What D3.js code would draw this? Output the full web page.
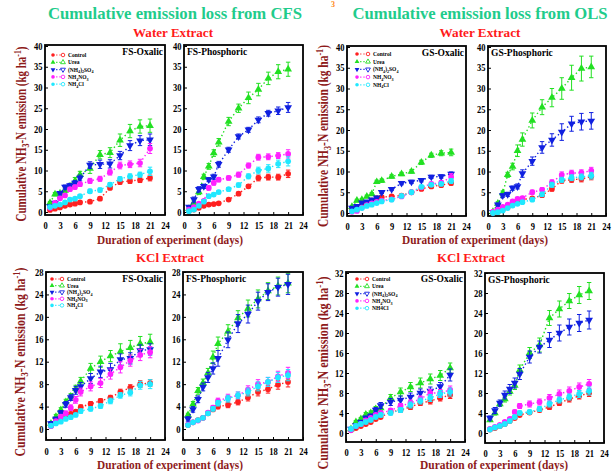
<!DOCTYPE html>
<html>
<head>
<meta charset="utf-8">
<script src="https://cdn.jsdelivr.net/npm/d3@7"></script>
<style>
  body { margin: 0; background: #fff; }
  svg { display: block; }
</style>
</head>
<body>
<div id="chart"></div>
<script>
// sampling days and labels
const days = [1, 2, 3, 4, 5, 6, 7, 9, 11, 13, 15, 17, 19, 21];
const seriesNames = ["Control", "Urea", "(NH4)2SO4", "NH4NO3", "NH4Cl"];
const xTicks = [0, 3, 6, 9, 12, 15, 18, 21, 24];
const yTicksWater = [0, 5, 10, 15, 20, 25, 30, 35, 40];
const yTicksKclFS = [0, 4, 8, 12, 16, 20, 24, 28];
const yTicksKclGS = [0, 4, 8, 12, 16, 20, 24, 28, 32];

// -- Water extract, CFS --
// order: Control, Urea, (NH4)2SO4, NH4NO3, NH4Cl
const fsOxWater = [
  [0.5, 0.8, 1.1, 1.5, 1.8, 2.0, 2.3, 2.5, 3.2, 5.8, 7.2, 7.5, 7.7, 8.2],
  [2.2, 4.3, 4.5, 5.2, 6.2, 7.5, 9.0, 10.5, 13.8, 14.3, 17.3, 19.5, 20.6, 20.8],
  [1.3, 2.2, 4.5, 6.0, 6.4, 7.0, 8.2, 11.3, 11.5, 11.6, 13.6, 16.0, 17.2, 17.4],
  [1.0, 2.2, 3.3, 4.0, 5.5, 6.0, 6.7, 7.5, 8.0, 9.6, 11.2, 11.5, 11.8, 15.3],
  [1.2, 1.5, 1.8, 2.3, 3.0, 3.2, 3.8, 5.0, 5.3, 6.6, 8.0, 8.6, 9.0, 9.8]
];
const fsOxWaterErr = [
  [0.2, 0.2, 0.2, 0.3, 0.3, 0.3, 0.3, 0.3, 0.4, 0.4, 0.5, 0.6, 0.6, 0.7],
  [0.3, 0.4, 0.4, 0.5, 0.6, 0.8, 0.8, 1.2, 1.0, 1.2, 1.5, 1.6, 1.6, 1.6],
  [0.2, 0.3, 0.4, 0.5, 0.5, 0.6, 0.7, 0.8, 1.0, 1.0, 1.0, 1.2, 1.2, 1.4],
  [0.2, 0.2, 0.3, 0.3, 0.4, 0.5, 0.5, 0.6, 0.6, 0.7, 0.8, 0.8, 0.9, 1.2],
  [0.2, 0.2, 0.2, 0.3, 0.3, 0.3, 0.4, 0.5, 0.5, 0.5, 0.5, 0.6, 0.6, 1.0]
];
const fsPhWater = [
  [0.3, 0.6, 1.0, 1.5, 1.8, 1.9, 2.1, 3.0, 4.4, 6.2, 8.2, 8.4, 8.4, 9.2],
  [0.8, 2.2, 4.8, 8.5, 11.0, 14.2, 16.8, 21.8, 25.0, 27.5, 29.5, 32.2, 33.8, 34.4],
  [1.2, 3.0, 5.5, 6.2, 7.8, 8.5, 11.5, 15.0, 18.2, 19.8, 22.2, 23.8, 24.4, 25.2],
  [0.6, 1.2, 2.0, 2.7, 5.8, 7.0, 7.8, 8.2, 9.0, 11.2, 13.2, 13.3, 13.6, 14.0],
  [0.2, 0.6, 1.5, 2.5, 3.8, 4.2, 4.8, 5.5, 6.5, 8.6, 10.0, 10.5, 11.6, 12.2]
];
const fsPhWaterErr = [
  [0.2, 0.2, 0.2, 0.2, 0.3, 0.3, 0.3, 0.3, 0.4, 0.4, 0.7, 0.7, 0.7, 0.9],
  [0.3, 0.5, 0.6, 0.6, 0.7, 0.8, 0.9, 1.0, 1.0, 1.4, 1.5, 1.5, 1.7, 1.7],
  [0.3, 0.6, 0.6, 0.5, 0.5, 0.6, 0.7, 0.6, 0.6, 0.6, 0.7, 0.7, 0.9, 1.2],
  [0.2, 0.3, 0.3, 0.3, 0.5, 0.5, 0.5, 0.5, 0.6, 0.6, 0.7, 0.7, 0.7, 1.0],
  [0.2, 0.2, 0.3, 0.3, 0.4, 0.4, 0.4, 0.4, 0.5, 0.6, 0.8, 0.9, 0.9, 1.1]
];

// -- Water extract, OLS --
const gsOxWater = [
  [1.0, 1.3, 1.8, 2.2, 3.0, 3.6, 3.8, 4.0, 4.2, 5.0, 5.8, 6.4, 6.7, 7.2],
  [1.5, 3.0, 3.2, 4.0, 4.6, 7.5, 7.8, 8.8, 9.4, 10.0, 12.2, 13.9, 14.4, 14.6],
  [1.2, 1.6, 2.5, 2.7, 3.2, 3.7, 5.0, 5.7, 7.2, 7.5, 7.9, 8.7, 8.8, 9.4],
  [0.3, 0.5, 1.3, 1.9, 2.3, 2.7, 3.0, 3.3, 4.0, 5.0, 6.2, 7.0, 7.3, 8.7],
  [0.4, 0.8, 1.2, 1.7, 2.0, 2.4, 2.8, 3.2, 4.1, 5.0, 6.3, 6.8, 7.0, 7.7]
];
const gsOxWaterErr = [
  [0.2, 0.2, 0.2, 0.2, 0.3, 0.3, 0.3, 0.3, 0.3, 0.3, 0.4, 0.4, 0.4, 0.5],
  [0.2, 0.3, 0.3, 0.3, 0.3, 0.4, 0.4, 0.4, 0.4, 0.4, 0.5, 0.5, 0.6, 0.8],
  [0.2, 0.2, 0.2, 0.3, 0.3, 0.3, 0.3, 0.3, 0.4, 0.4, 0.4, 0.4, 0.4, 0.5],
  [0.2, 0.2, 0.2, 0.2, 0.2, 0.3, 0.3, 0.3, 0.3, 0.3, 0.4, 0.4, 0.5, 0.8],
  [0.2, 0.2, 0.2, 0.2, 0.2, 0.3, 0.3, 0.3, 0.3, 0.3, 0.4, 0.4, 0.4, 0.6]
];
const gsPhWater = [
  [0.0, 0.3, 0.8, 1.4, 2.4, 3.0, 3.3, 3.5, 4.3, 5.8, 7.8, 8.0, 8.2, 8.8],
  [0.3, 2.3, 4.8, 9.2, 11.2, 15.0, 17.7, 22.3, 25.5, 27.8, 30.0, 32.6, 34.8, 35.2],
  [0.2, 2.0, 4.2, 4.5, 6.0, 6.4, 9.5, 12.5, 15.8, 17.6, 19.5, 21.5, 22.0, 22.2],
  [0.3, 0.8, 1.5, 2.0, 2.8, 3.4, 3.6, 5.0, 5.6, 7.4, 9.2, 9.6, 9.7, 10.2],
  [0.0, 0.2, 0.6, 1.2, 1.8, 2.2, 2.6, 3.2, 4.5, 6.8, 8.0, 8.5, 8.7, 9.0]
];
const gsPhWaterErr = [
  [0.2, 0.2, 0.2, 0.3, 0.3, 0.3, 0.3, 0.3, 0.4, 0.5, 0.6, 0.6, 0.7, 0.8],
  [0.3, 0.4, 0.5, 0.6, 0.8, 1.4, 1.6, 1.8, 1.8, 2.2, 2.6, 3.0, 3.0, 2.6],
  [0.3, 0.4, 0.4, 0.5, 0.5, 0.6, 0.9, 1.0, 1.4, 1.5, 2.0, 1.8, 2.0, 2.0],
  [0.2, 0.2, 0.3, 0.3, 0.3, 0.4, 0.4, 0.5, 0.5, 0.6, 0.7, 0.7, 0.7, 0.8],
  [0.2, 0.2, 0.2, 0.3, 0.3, 0.3, 0.3, 0.4, 0.5, 0.6, 0.6, 0.7, 0.7, 0.8]
];

// -- KCl extract, CFS --
const fsOxKcl = [
  [0.6, 1.2, 2.0, 2.5, 2.7, 3.1, 3.9, 4.5, 5.0, 5.6, 6.6, 7.4, 8.0, 8.2],
  [1.0, 2.2, 3.4, 4.8, 5.8, 7.2, 8.5, 10.8, 12.0, 13.0, 13.8, 14.5, 15.2, 15.5],
  [1.0, 1.8, 2.9, 4.4, 5.6, 6.9, 7.6, 9.0, 10.2, 10.6, 12.4, 12.6, 14.0, 14.2],
  [0.5, 1.4, 2.2, 2.8, 3.8, 5.2, 6.6, 7.6, 8.2, 9.8, 11.0, 12.2, 13.2, 13.7],
  [0.6, 1.0, 1.3, 1.8, 2.1, 2.5, 3.2, 3.6, 4.1, 5.0, 6.0, 6.5, 7.8, 8.0]
];
const fsOxKclErr = [
  [0.2, 0.2, 0.3, 0.3, 0.3, 0.3, 0.4, 0.4, 0.4, 0.4, 0.5, 0.5, 0.6, 0.6],
  [0.3, 0.4, 0.4, 0.5, 0.5, 0.6, 0.7, 0.9, 1.0, 1.0, 1.4, 1.3, 1.3, 1.4],
  [0.3, 0.3, 0.4, 0.5, 0.5, 0.7, 0.7, 0.9, 1.0, 1.1, 1.0, 1.0, 1.0, 1.0],
  [0.2, 0.3, 0.3, 0.4, 0.5, 0.6, 0.7, 0.8, 0.8, 0.9, 1.0, 1.0, 1.0, 1.0],
  [0.2, 0.2, 0.2, 0.2, 0.3, 0.3, 0.4, 0.4, 0.4, 0.5, 0.5, 0.6, 0.7, 0.8]
];
const fsPhKcl = [
  [0.7, 1.2, 1.6, 2.0, 2.8, 3.5, 4.0, 4.3, 4.8, 5.6, 6.6, 7.1, 7.9, 8.4],
  [2.5, 4.4, 6.8, 8.2, 10.0, 12.8, 15.2, 17.4, 19.8, 21.5, 23.2, 24.6, 25.5, 26.0],
  [1.8, 3.5, 5.3, 7.5, 9.2, 10.8, 12.6, 15.9, 18.8, 20.5, 22.8, 24.4, 25.3, 25.8],
  [0.8, 1.2, 1.5, 2.0, 2.9, 3.8, 5.0, 5.6, 6.0, 7.0, 8.0, 8.4, 9.4, 10.0],
  [0.7, 1.2, 1.6, 2.0, 2.8, 3.6, 4.6, 5.4, 6.0, 6.6, 7.6, 8.4, 9.2, 9.6]
];
const fsPhKclErr = [
  [0.2, 0.2, 0.2, 0.2, 0.3, 0.3, 0.4, 0.5, 0.5, 0.6, 0.7, 0.7, 0.8, 0.9],
  [0.3, 0.5, 0.6, 0.7, 0.8, 1.1, 1.2, 1.2, 1.3, 1.5, 1.6, 1.5, 1.6, 1.7],
  [0.4, 0.5, 0.6, 0.7, 0.9, 1.0, 1.4, 1.4, 1.6, 1.6, 1.6, 1.5, 1.6, 1.8],
  [0.2, 0.2, 0.2, 0.2, 0.3, 0.4, 0.5, 0.6, 0.6, 0.7, 0.8, 0.8, 0.9, 1.0],
  [0.2, 0.2, 0.2, 0.2, 0.3, 0.4, 0.5, 0.6, 0.6, 0.7, 0.8, 0.8, 0.9, 1.0]
];

// -- KCl extract, OLS --
const gsOxKcl = [
  [0.6, 1.0, 1.4, 1.8, 2.2, 2.8, 3.2, 4.2, 4.6, 5.2, 6.0, 6.4, 7.0, 7.6],
  [0.8, 2.2, 2.8, 3.7, 4.0, 4.8, 5.0, 7.0, 8.2, 9.2, 10.0, 10.8, 11.5, 13.0],
  [0.8, 1.5, 2.2, 3.0, 3.4, 4.6, 5.5, 6.2, 6.6, 7.2, 8.0, 8.4, 9.3, 11.6],
  [0.6, 1.4, 1.8, 2.5, 3.0, 3.6, 4.0, 4.5, 5.4, 6.0, 6.8, 8.0, 8.0, 8.6],
  [0.8, 1.4, 1.8, 2.2, 2.6, 3.2, 3.6, 4.0, 4.6, 5.6, 6.4, 7.0, 7.8, 8.2]
];
const gsOxKclErr = [
  [0.2, 0.2, 0.2, 0.3, 0.3, 0.3, 0.3, 0.4, 0.4, 0.5, 0.5, 0.6, 0.6, 0.7],
  [0.3, 0.3, 0.3, 0.4, 0.4, 0.5, 0.5, 0.7, 0.8, 0.9, 1.0, 1.0, 1.0, 1.0],
  [0.3, 0.3, 0.3, 0.4, 0.4, 0.5, 0.6, 0.7, 0.8, 0.8, 0.8, 0.8, 0.8, 1.2],
  [0.2, 0.2, 0.3, 0.3, 0.3, 0.3, 0.4, 0.4, 0.5, 0.6, 0.6, 0.7, 0.7, 0.8],
  [0.2, 0.2, 0.3, 0.3, 0.3, 0.3, 0.4, 0.4, 0.5, 0.6, 0.6, 0.7, 0.7, 0.8]
];
const gsPhKcl = [
  [0.7, 1.0, 1.4, 1.8, 2.4, 3.0, 3.6, 4.1, 4.6, 5.2, 6.0, 6.8, 7.4, 8.0],
  [2.6, 4.0, 5.8, 6.8, 8.3, 9.5, 12.6, 16.0, 17.6, 23.0, 24.8, 26.4, 27.6, 28.4],
  [3.0, 4.5, 6.0, 7.6, 8.8, 10.0, 11.8, 15.2, 17.2, 18.6, 20.0, 21.2, 22.0, 22.6],
  [0.8, 1.2, 1.6, 2.2, 2.8, 4.2, 5.4, 5.8, 6.2, 7.0, 7.8, 8.4, 9.2, 9.8],
  [0.7, 1.1, 1.4, 1.8, 2.4, 3.2, 4.0, 4.2, 4.8, 5.8, 6.6, 7.2, 7.8, 8.4]
];
const gsPhKclErr = [
  [0.2, 0.2, 0.2, 0.2, 0.3, 0.3, 0.3, 0.4, 0.4, 0.5, 0.5, 0.6, 0.6, 0.7],
  [0.3, 0.4, 0.5, 0.6, 0.7, 0.8, 1.0, 1.1, 1.4, 1.5, 1.6, 1.5, 1.7, 1.7],
  [0.4, 0.6, 0.6, 0.8, 0.9, 1.0, 1.1, 1.2, 1.2, 1.5, 1.6, 1.6, 1.7, 1.8],
  [0.2, 0.2, 0.3, 0.3, 0.3, 0.4, 0.5, 0.6, 0.6, 0.7, 0.8, 0.8, 0.8, 0.9],
  [0.2, 0.2, 0.2, 0.3, 0.3, 0.3, 0.4, 0.4, 0.5, 0.6, 0.6, 0.6, 0.7, 0.8]
];

const seriesTheme = [
  { color: "#ff2020", symbol: d3.symbolCircle, rotate: 0 },
  { color: "#22e022", symbol: d3.symbolTriangle, rotate: 0 },
  { color: "#1020e0", symbol: d3.symbolTriangle, rotate: 180 },
  { color: "#ff20ff", symbol: d3.symbolCircle, rotate: 0 },
  { color: "#20e8ff", symbol: d3.symbolCircle, rotate: 0 }
];

const textTheme = {
  font: "'Liberation Serif', 'Times New Roman', serif",
  axisLabel: "#8e1b1b",
  extract: "#ff1a1a",
  heading: "#1fcc8c"
};

const topLegend = { dx1: 8, dx2: 18, dxText: 23, y0: 10, dy: 7.3 };
const panels = [
  { title: "FS-Oxalic", titleRight: true, values: fsOxWater, errors: fsOxWaterErr, yTicks: yTicksWater,
    box: { left: 45, right: 165, top: 45, bottom: 215 }, yPx: [212, 46], xPad: 7, legend: topLegend },
  { title: "FS-Phosphoric", titleRight: false, values: fsPhWater, errors: fsPhWaterErr, yTicks: yTicksWater,
    box: { left: 184, right: 303, top: 45, bottom: 215 }, yPx: [212, 46], xPad: 7 },
  { title: "GS-Oxalic", titleRight: true, values: gsOxWater, errors: gsOxWaterErr, yTicks: yTicksWater,
    box: { left: 347, right: 466, top: 46, bottom: 216 }, yPx: [213, 47], xPad: 7,
    legend: { dx1: 10, dx2: 21, dxText: 26, y0: 8, dy: 7.7 } },
  { title: "GS-Phosphoric", titleRight: false, values: gsPhWater, errors: gsPhWaterErr, yTicks: yTicksWater,
    box: { left: 488, right: 606, top: 46, bottom: 216 }, yPx: [213, 47], xPad: 7 },
  { title: "FS-Oxalic", titleRight: true, values: fsOxKcl, errors: fsOxKclErr, yTicks: yTicksKclFS,
    box: { left: 46, right: 165, top: 272, bottom: 440 }, yPx: [429, 272], xPad: 8,
    legend: { dx1: 6, dx2: 16, dxText: 21, y0: 7, dy: 6.6 } },
  { title: "FS-Phosphoric", titleRight: false, values: fsPhKcl, errors: fsPhKclErr, yTicks: yTicksKclFS,
    box: { left: 183, right: 303, top: 272, bottom: 440 }, yPx: [429, 272], xPad: 8 },
  { title: "GS-Oxalic", titleRight: true, values: gsOxKcl, errors: gsOxKclErr, yTicks: yTicksKclGS,
    box: { left: 346, right: 465, top: 272, bottom: 442 }, yPx: [433, 273], xPad: 7,
    legend: { dx1: 11, dx2: 21, dxText: 26, y0: 7, dy: 7.3 }, plainChloride: true },
  { title: "GS-Phosphoric", titleRight: false, values: gsPhKcl, errors: gsPhKclErr, yTicks: yTicksKclGS,
    box: { left: 485, right: 604, top: 273, bottom: 443 }, yPx: [433, 273], xPad: 7 }
];

const svg = d3.select("#chart").append("svg")
  .attr("width", 613)
  .attr("height", 471)
  .style("font-family", textTheme.font);

// chemical formula -> text with subscripts
const addFormula = (sel, label, size) => {
  const parts = label.split(/(\d)/).filter((p) => p !== "");
  let sub = false;
  parts.forEach((p) => {
    const isDigit = /\d/.test(p);
    const t = sel.append("tspan").text(p);
    if (isDigit && !sub) { t.attr("dy", size * 0.3).style("font-size", size * 0.75 + "px"); sub = true; }
    else if (!isDigit && sub) { t.attr("dy", -size * 0.3); sub = false; }
  });
  if (sub) sel.append("tspan").attr("dy", -size * 0.3).text("");
};

const drawPanel = (p) => {
  const g = svg.append("g");
  const x = d3.scaleLinear().domain([0, 24]).range([p.box.left, p.box.right]);
  const y = d3.scaleLinear().domain([0, d3.max(p.yTicks)]).range(p.yPx);

  // axes with small inner ticks
  const yAxis = g.append("g")
    .attr("transform", `translate(${p.box.left},0)`)
    .call(d3.axisLeft(y).tickValues(p.yTicks).tickSize(-3).tickPadding(3));
  const xAxis = g.append("g")
    .attr("transform", `translate(0,${p.box.bottom})`)
    .call(d3.axisBottom(x).tickValues(xTicks).tickSize(-3).tickPadding(p.xPad));
  [yAxis, xAxis].forEach((a) => {
    a.select(".domain").remove();
    a.selectAll(".tick line").attr("stroke", "#000").attr("stroke-width", 1);
    a.selectAll(".tick text")
      .attr("fill", "#000")
      .style("font-family", textTheme.font)
      .style("font-weight", "bold")
      .style("font-size", "10px")
      .attr("transform", "scale(0.85,1)");
  });

  // frame
  g.append("rect")
    .attr("x", p.box.left).attr("y", p.box.top)
    .attr("width", p.box.right - p.box.left)
    .attr("height", p.box.bottom - p.box.top)
    .attr("fill", "none").attr("stroke", "#000").attr("stroke-width", 1.8);

  const line = d3.line().x((d) => x(d[0])).y((d) => y(d[1]));

  p.values.forEach((vals, si) => {
    const theme = seriesTheme[si];
    const pts = days.map((d, i) => [d, vals[i], p.errors[si][i]]);

    g.append("path")
      .datum(pts)
      .attr("d", line)
      .attr("fill", "none")
      .attr("stroke", theme.color)
      .attr("stroke-width", 1.4)
      .attr("stroke-dasharray", "1.4,2.6");

    const eb = g.append("g").attr("stroke", theme.color).attr("stroke-width", 1);
    eb.selectAll("line.v").data(pts).enter().append("line")
      .attr("x1", (d) => x(d[0])).attr("x2", (d) => x(d[0]))
      .attr("y1", (d) => y(d[1] - d[2])).attr("y2", (d) => y(d[1] + d[2]));
    eb.selectAll("line.t").data(pts).enter().append("line")
      .attr("x1", (d) => x(d[0]) - 2.2).attr("x2", (d) => x(d[0]) + 2.2)
      .attr("y1", (d) => y(d[1] + d[2])).attr("y2", (d) => y(d[1] + d[2]));
    eb.selectAll("line.b").data(pts).enter().append("line")
      .attr("x1", (d) => x(d[0]) - 2.2).attr("x2", (d) => x(d[0]) + 2.2)
      .attr("y1", (d) => y(d[1] - d[2])).attr("y2", (d) => y(d[1] - d[2]));

    g.selectAll(null).data(pts).enter().append("path")
      .attr("d", d3.symbol().type(theme.symbol).size(26))
      .attr("transform", (d) => `translate(${x(d[0])},${y(d[1])}) rotate(${theme.rotate})`)
      .attr("fill", theme.color);
  });

  // panel title
  g.append("text")
    .attr("x", p.titleRight ? p.box.right - 2 : p.box.left + 3)
    .attr("y", p.box.top + 10)
    .attr("text-anchor", p.titleRight ? "end" : "start")
    .style("font-size", "9.5px").style("font-weight", "bold")
    .text(p.title);

  if (p.legend) {
    const L = p.legend;
    seriesNames.forEach((name, si) => {
      const theme = seriesTheme[si];
      const ly = p.box.top + L.y0 + si * L.dy;
      const lx1 = p.box.left + L.dx1, lx2 = p.box.left + L.dx2;
      g.append("line")
        .attr("x1", lx1).attr("x2", lx2).attr("y1", ly).attr("y2", ly)
        .attr("stroke", theme.color).attr("stroke-width", 1.2)
        .attr("stroke-dasharray", "1.2,2");
      g.append("path")
        .attr("d", d3.symbol().type(theme.symbol).size(10))
        .attr("transform", `translate(${lx1},${ly}) rotate(${theme.rotate})`)
        .attr("fill", theme.color);
      g.append("path")
        .attr("d", d3.symbol().type(theme.symbol).size(10))
        .attr("transform", `translate(${lx2},${ly}) rotate(${theme.rotate})`)
        .attr("fill", "#fff").attr("stroke", theme.color).attr("stroke-width", 0.9);
      const t = g.append("text")
        .attr("x", p.box.left + L.dxText).attr("y", ly + 2)
        .style("font-size", "5.5px").style("font-weight", "bold");
      if (si === 4 && p.plainChloride) t.text(name);
      else addFormula(t, name, 5.5);
    });
  }
};

panels.forEach(drawPanel);

// headings
const heading = (txt, cx, y, size, color, len) => {
  const t = svg.append("text")
    .attr("x", cx).attr("y", y)
    .attr("text-anchor", "middle")
    .style("font-size", size + "px").style("font-weight", "bold")
    .attr("fill", color).text(txt);
  if (len) t.attr("textLength", len).attr("lengthAdjust", "spacingAndGlyphs");
  return t;
};

// stray orange mark at the top edge of the figure
svg.append("text").attr("x", 333).attr("y", 7).attr("text-anchor", "middle")
  .style("font-size", "8px").style("font-weight", "bold").attr("fill", "#ff8a20").text("3");

heading("Cumulative emission loss from CFS", 175, 19, 16.7, textTheme.heading, 254);
heading("Cumulative emission loss from OLS", 480, 19, 16.7, textTheme.heading, 255);
heading("Water Extract", 173, 37, 13, textTheme.extract, 80);
heading("Water Extract", 480, 37, 13, textTheme.extract, 81);
heading("KCl Extract", 170, 262, 13, textTheme.extract, 68);
heading("KCl Extract", 471, 262, 13, textTheme.extract, 68);
heading("Duration of experiment (days)", 170, 244, 12, textTheme.axisLabel, 146);
heading("Duration of experiment (days)", 475, 244, 12, textTheme.axisLabel, 146);
heading("Duration of experiment (days)", 170, 469, 12, textTheme.axisLabel, 146);
heading("Duration of experiment (days)", 494, 469, 12, textTheme.axisLabel, 148);

// rotated y labels with NH3 subscript and ha-1 superscript
const yLabel = (bx, cy, len) => {
  const t = svg.append("text")
    .attr("transform", `translate(${bx},${cy}) rotate(-90)`)
    .attr("text-anchor", "middle")
    .style("font-size", "14px").style("font-weight", "bold")
    .attr("fill", textTheme.axisLabel)
    .attr("textLength", len).attr("lengthAdjust", "spacingAndGlyphs");
  t.append("tspan").text("Cumulative NH");
  t.append("tspan").attr("dy", 3).style("font-size", "10px").text("3");
  t.append("tspan").attr("dy", -3).text("-N emission (kg ha");
  t.append("tspan").attr("dy", -5).style("font-size", "10px").text("-1");
  t.append("tspan").attr("dy", 5).text(")");
};
yLabel(26, 134, 175);
yLabel(328, 136, 182);
yLabel(25, 362, 189);
yLabel(328, 373, 193);
</script>
</body>
</html>
